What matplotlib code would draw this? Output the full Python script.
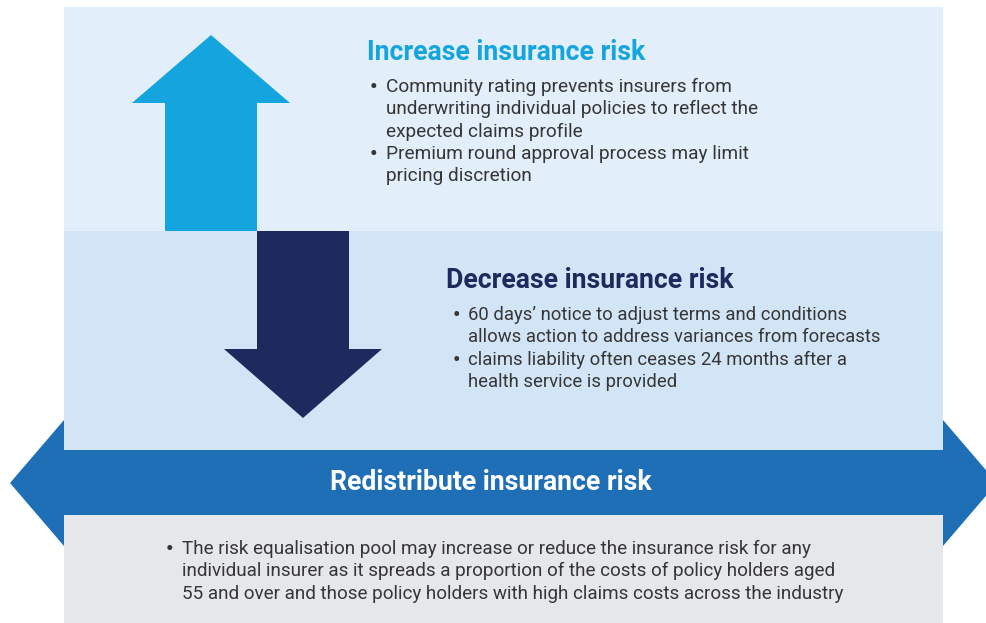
import matplotlib.pyplot as plt
from matplotlib.patches import Polygon, Rectangle

# colours
c_top = '#e2eef9'
c_mid = '#d2e5f6'
c_band = '#1f6fb6'
c_bottom = '#e5e7ea'
c_up = '#14a5de'
c_down = '#1e2a5e'
c_text = '#363636'

# text content
headings = ['Increase insurance risk', 'Decrease insurance risk', 'Redistribute insurance risk']
up_bullets = [['Community rating prevents insurers from',
               'underwriting individual policies to reflect the',
               'expected claims profile'],
              ['Premium round approval process may limit',
               'pricing discretion']]
down_bullets = [['60 days\u2019 notice to adjust terms and conditions',
                 'allows action to address variances from forecasts'],
                ['claims liability often ceases 24 months after a',
                 'health service is provided']]
pool_bullets = [['The risk equalisation pool may increase or reduce the insurance risk for any',
                 'individual insurer as it spreads a proportion of the costs of policy holders aged',
                 '55 and over and those policy holders with high claims costs across the industry']]

W, H = 987, 623
fig = plt.figure(figsize=(W / 100, H / 100), dpi=100)
ax = fig.add_axes([0, 0, 1, 1])
ax.set_xlim(0, W)
ax.set_ylim(H, 0)
ax.axis('off')

# panels
ax.add_patch(Rectangle((64, 7), 879, 224, color=c_top, lw=0))
ax.add_patch(Rectangle((64, 231), 879, 219, color=c_mid, lw=0))
ax.add_patch(Rectangle((64, 515), 879, 110, color=c_bottom, lw=0))

# double arrow band
band = [(10, 483), (64, 420), (64, 450), (943, 450), (943, 420), (997, 483),
        (943, 546), (943, 515), (64, 515), (64, 546)]
ax.add_patch(Polygon(band, closed=True, color=c_band, lw=0))

# up arrow
up = [(165, 231), (165, 103), (132, 103), (211, 35), (290, 103), (257, 103), (257, 231)]
ax.add_patch(Polygon(up, closed=True, color=c_up, lw=0))

# down arrow
down = [(257, 231), (257, 349), (224, 349), (303, 418), (382, 349), (349, 349), (349, 231)]
ax.add_patch(Polygon(down, closed=True, color=c_down, lw=0))

font = 'Roboto'


def bullets(items, xb, xt, y0, step, size):
    y = y0
    for item in items:
        ax.text(xb, y + 1, '\u2022', fontsize=size * 1.1, color=c_text, va='center', ha='center',
                family=font, fontweight='bold')
        for line in item:
            ax.text(xt, y, line, fontsize=size, color=c_text, va='center', ha='left', family=font)
            y += step


ax.text(367, 53, headings[0], fontsize=19.2, fontweight='bold', color=c_up,
        va='center', ha='left', family=font)
bullets(up_bullets, 373, 386, 87, 22.3, 13.7)

ax.text(446, 281, headings[1], fontsize=19.2, fontweight='bold', color=c_down,
        va='center', ha='left', family=font)
bullets(down_bullets, 456, 468, 315, 22.3, 13.3)

ax.text(491, 483, headings[2], fontsize=19.2, fontweight='bold', color='white',
        va='center', ha='center', family=font)
bullets(pool_bullets, 169, 182, 549, 22.3, 13.6)

fig.savefig('out.png', dpi=100)
